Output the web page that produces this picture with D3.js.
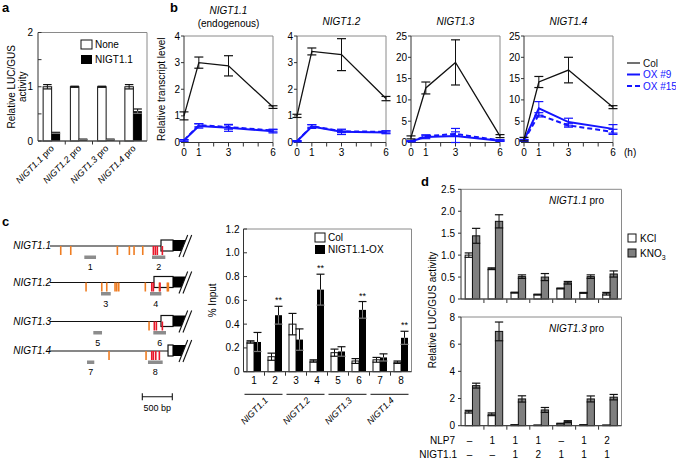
<!DOCTYPE html>
<html><head><meta charset="utf-8">
<script src="https://cdn.jsdelivr.net/npm/d3@7"></script>
<style>
body{margin:0;background:#fff;}
svg text{font-family:"Liberation Sans",Arial,Helvetica,sans-serif;}
</style></head>
<body><svg id="c" width="676" height="459"></svg>
<script>
// ---------- Panel a ----------
const aCategories = ["NIGT1.1","NIGT1.2","NIGT1.3","NIGT1.4"];
const aNone = [1.0,1.0,1.0,1.0];
const aNoneErr = [0.04,0.01,0.01,0.04];
const aNigt = [0.15,0.03,0.03,0.55];
const aNigtErr = [0.01,0.005,0.005,0.04];
const aYTicks = [0,1,2];
const aYMinor = [0.5,1.5];

// ---------- Panel b ----------
const bTitles = ["NIGT1.1","NIGT1.2","NIGT1.3","NIGT1.4"];
const bHours = [0,1,3,6];
const bHourTicks = [0,1,2,3,4,5,6];
const bHourLabels = [0,1,3,6];
const bYMax = [4,4,25,25];
const bYTicks = [[0,1,2,3,4],[0,1,2,3,4],[0,5,10,15,20,25],[0,5,10,15,20,25]];
const colVals = [[1.0,3.0,2.88,1.33],[1.0,3.42,3.3,1.65],[1.2,12.8,18.8,1.5],[0.8,14.2,17.0,8.3]];
const colErr  = [[0.15,0.21,0.38,0.05],[0.06,0.13,0.6,0.08],[0.35,1.4,5.3,0.35],[0.4,1.3,3.0,0.35]];
const ox9Vals = [[0.08,0.62,0.55,0.42],[0.05,0.6,0.4,0.38],[0.3,1.3,1.5,0.4],[0.5,8.0,4.8,3.2]];
const ox9Err  = [[0.03,0.08,0.13,0.06],[0.02,0.07,0.1,0.05],[0.1,0.4,1.8,0.15],[0.2,1.6,0.9,1.0]];
const ox15Vals= [[0.08,0.65,0.58,0.45],[0.05,0.62,0.42,0.4],[0.3,1.5,2.0,0.5],[0.5,6.5,4.0,2.5]];
const ox15Err = [[0.03,0.06,0.08,0.05],[0.02,0.05,0.05,0.04],[0.1,0.3,0.5,0.15],[0.2,0.5,0.4,0.6]];
const bLegend = ["Col","OX #9","OX #15"];

// ---------- Panel c (diagrams, positions in bp) ----------
const cGenes = ["NIGT1.1","NIGT1.2","NIGT1.3","NIGT1.4"];
const cUtrStart = [1850,1733,1850,1967];
const cCdsStart = [2050,2050,2050,2050];
const cCdsEnd = [2250,2250,2250,2250];
const cOrange = [[178,345,1122,1322,1400,1545],[600,862,945,1083,1112,1145,1588,1822,1955,1972],[1650],[983,1600]];
const cRed = [[1722,1755,1788,1872],[1695,1722,1833],[1738,1772,1872],[1695,1722,1762,1822]];
const cAmplicons = [[[572,767,"1"],[1700,1922,"2"]],[[850,1012,"3"],[1667,1855,"4"]],[[722,867,"5"],[1722,1933,"6"]],[[617,738,"7"],[1633,1878,"8"]]];
const cScaleBp = 500;

// ---------- Panel c (ChIP bars) ----------
const chipRegions = ["1","2","3","4","5","6","7","8"];
const chipCol = [0.25,0.126,0.40,0.09,0.16,0.09,0.10,0.08];
const chipColErr = [0.01,0.03,0.09,0.01,0.03,0.02,0.02,0.01];
const chipOX = [0.25,0.475,0.27,0.69,0.17,0.52,0.12,0.285];
const chipOXErr = [0.08,0.075,0.09,0.13,0.04,0.07,0.03,0.055];
const chipSig = [false,true,false,true,false,true,false,true];
const chipYTicks = [0,0.2,0.4,0.6,0.8,1.0,1.2];

// ---------- Panel d ----------
const dNLP7 = ["–","1","1","1","–","1","2"];
const dNIGT = ["–","–","1","2","1","1","1"];
const d11KCl = [1.0,0.69,0.145,0.1,0.24,0.14,0.12];
const d11KClErr = [0.05,0.02,0.01,0.01,0.01,0.01,0.03];
const d11KNO3 = [1.44,1.77,0.51,0.5,0.37,0.51,0.57];
const d11KNO3Err = [0.17,0.15,0.04,0.08,0.03,0.04,0.07];
const d13KCl = [1.03,0.84,0.05,0.03,0.15,0.05,0.03];
const d13KClErr = [0.1,0.1,0.02,0.01,0.03,0.02,0.01];
const d13KNO3 = [2.95,6.94,1.97,1.16,0.3,1.97,2.1];
const d13KNO3Err = [0.18,0.69,0.23,0.18,0.07,0.22,0.2];
const d11Ticks = [0,0.5,1.0,1.5,2.0,2.5];
const d13Ticks = [0,2,4,6,8];

const svg = d3.select("#c");
const AX = "#333", FR = "#8a8a8a";
const FS = 9;

function panelLabel(t,x,y){ svg.append("text").attr("x",x).attr("y",y).attr("font-size",13).attr("font-weight","bold").text(t); }

function frame(g,x0,x1,y0,y1){
  g.append("path").attr("d",`M${x0},${y1}H${x1}V${y0}H${x0}`).attr("fill","none").attr("stroke",FR).attr("stroke-width",1);
  g.append("path").attr("d",`M${x0},${y0}V${y1}H${x1}`).attr("fill","none").attr("stroke",AX).attr("stroke-width",1);
}

function errBar(g,x,yS,v,e,w,color,lowColor){
  g.append("line").attr("x1",x).attr("x2",x).attr("y1",yS(v+e)).attr("y2",yS(v)).attr("stroke",color).attr("stroke-width",1);
  g.append("line").attr("x1",x).attr("x2",x).attr("y1",yS(v)).attr("y2",yS(Math.max(0,v-e))).attr("stroke",lowColor||color).attr("stroke-width",1);
  g.append("line").attr("x1",x-w/2).attr("x2",x+w/2).attr("y1",yS(v+e)).attr("y2",yS(v+e)).attr("stroke",color).attr("stroke-width",1.2);
  g.append("line").attr("x1",x-w/2).attr("x2",x+w/2).attr("y1",yS(Math.max(0,v-e))).attr("y2",yS(Math.max(0,v-e))).attr("stroke",lowColor||color).attr("stroke-width",1.2);
}

// ================= Panel a =================
panelLabel("a",2,12);
{
  const g = svg.append("g");
  const x0=38,x1=147,y0=32.5,y1=141;
  const xb = d3.scaleBand().domain(aCategories).range([x0,x1]);
  const y = d3.scaleLinear().domain([0,2]).range([y1,y0]);
  const bw = 8.5;
  aCategories.forEach((c,i)=>{
    const cx = xb(c)+xb.bandwidth()/2;
    g.append("rect").attr("x",cx-bw).attr("y",y(aNone[i])).attr("width",bw).attr("height",y1-y(aNone[i])).attr("fill","#fff").attr("stroke","#111").attr("stroke-width",1);
    g.append("rect").attr("x",cx).attr("y",y(aNigt[i])).attr("width",bw).attr("height",y1-y(aNigt[i])).attr("fill","#000");
    errBar(g,cx-bw/2,y,aNone[i],aNoneErr[i],bw,"#111");
    errBar(g,cx+bw/2,y,aNigt[i],aNigtErr[i],bw,"#111","#777");
    g.append("text").attr("transform",`translate(${cx+3},${y1+8}) rotate(-45)`).attr("text-anchor","end").attr("font-size",FS)
      .call(t=>{t.append("tspan").attr("font-style","italic").text(c); t.append("tspan").text(" pro");});
  });
  frame(g,x0,x1,y0,y1);
  aYTicks.forEach(v=>{
    g.append("line").attr("x1",x0).attr("x2",x0+3.5).attr("y1",y(v)).attr("y2",y(v)).attr("stroke",AX);
    g.append("text").attr("x",x0-5).attr("y",y(v)+3.5).attr("text-anchor","end").attr("font-size",FS+1).text(d3.format("d")(v));
  });
  aYMinor.forEach(v=>g.append("line").attr("x1",x0).attr("x2",x0+3.5).attr("y1",y(v)).attr("y2",y(v)).attr("stroke",AX));
  xb.domain().slice(1).forEach(c=>g.append("line").attr("x1",xb(c)).attr("x2",xb(c)).attr("y1",y1).attr("y2",y1+3.5).attr("stroke",AX));
  g.append("text").attr("transform",`translate(15,${(y0+y1)/2}) rotate(-90)`).attr("text-anchor","middle").attr("font-size",FS+1).text("Relative LUC/GUS");
  g.append("text").attr("transform",`translate(26,${(y0+y1)/2}) rotate(-90)`).attr("text-anchor","middle").attr("font-size",FS+1).text("activity");
  // legend
  g.append("rect").attr("x",81).attr("y",40).attr("width",11).attr("height",9).attr("fill","#fff").attr("stroke","#111");
  g.append("text").attr("x",95).attr("y",48).attr("font-size",FS+1).text("None");
  g.append("rect").attr("x",81).attr("y",55).attr("width",11).attr("height",9).attr("fill","#000");
  g.append("text").attr("x",95).attr("y",63).attr("font-size",FS+1).text("NIGT1.1");
}

// ================= Panel b =================
panelLabel("b",170,12);
{
  const lefts=[184,297,411,524], w=89, y0=36, y1=142.5;
  const blue="#1414ff";
  bTitles.forEach((t,k)=>{
    const g = svg.append("g");
    const x0=lefts[k], x1=x0+w;
    const x = d3.scaleLinear().domain([0,6]).range([x0,x1]);
    const y = d3.scaleLinear().domain([0,bYMax[k]]).range([y1,y0]);
    frame(g,x0,x1,y0,y1);
    bHourTicks.forEach(h=>g.append("line").attr("x1",x(h)).attr("x2",x(h)).attr("y1",y1).attr("y2",y1+4).attr("stroke",AX));
    bHourLabels.forEach(h=>g.append("text").attr("x",x(h)).attr("y",y1+13).attr("text-anchor","middle").attr("font-size",FS+1).text(h));
    bYTicks[k].forEach(v=>{
      g.append("line").attr("x1",x0-3).attr("x2",x0).attr("y1",y(v)).attr("y2",y(v)).attr("stroke",AX);
      g.append("text").attr("x",x0-4).attr("y",y(v)+3.5).attr("text-anchor","end").attr("font-size",FS+1).text(v);
    });
    const line = d3.line().x((d,i)=>x(bHours[i])).y(d=>y(d));
    const series = [[ox15Vals[k],ox15Err[k],blue,"5,3",2],[ox9Vals[k],ox9Err[k],blue,null,2],[colVals[k],colErr[k],"#111",null,1.3]];
    series.forEach(([vals,errs,col,dash,sw])=>{
      vals.forEach((v,i)=>errBar(g,x(bHours[i]),y,v,errs[i],9,col));
      g.append("path").datum(vals).attr("d",line).attr("fill","none").attr("stroke",col).attr("stroke-width",sw).attr("stroke-dasharray",dash);
    });
    g.append("text").attr("x",x0+w/2).attr("y",k===0?14:25).attr("text-anchor","middle").attr("font-size",FS+1).attr("font-style","italic").text(t);
    if(k===0) g.append("text").attr("x",x0+w/2).attr("y",27).attr("text-anchor","middle").attr("font-size",FS+1).text("(endogenous)");
  });
  svg.append("text").attr("transform",`translate(165,${(y0+y1)/2}) rotate(-90)`).attr("text-anchor","middle").attr("font-size",FS+1).text("Relative transcript level");
  svg.append("text").attr("x",624).attr("y",y1+13).attr("font-size",FS+1).text("(h)");
  const lc=["#111",blue,blue], ld=[null,null,"5,3"], lw=[1.2,2,2];
  bLegend.forEach((t,i)=>{
    const yy=63+i*11.5;
    svg.append("line").attr("x1",627).attr("x2",640).attr("y1",yy).attr("y2",yy).attr("stroke",lc[i]).attr("stroke-width",lw[i]).attr("stroke-dasharray",ld[i]);
    svg.append("text").attr("x",643).attr("y",yy+3.5).attr("font-size",FS+1).attr("fill",i?blue:"#111").text(t);
  });
}

// ================= Panel c diagrams =================
panelLabel("c",2,226);
{
  const g = svg.append("g");
  const bx = d3.scaleLinear().domain([0,500]).range([50,80]);
  const rows=[246,282.5,321.5,351];
  cGenes.forEach((name,k)=>{
    const yy=rows[k];
    g.append("text").attr("x",51).attr("y",yy+3).attr("text-anchor","end").attr("font-size",FS+1).attr("font-style","italic").text(name);
    g.append("line").attr("x1",bx(0)).attr("x2",bx(cUtrStart[k])).attr("y1",yy).attr("y2",yy).attr("stroke","#111").attr("stroke-width",1.2);
    g.append("rect").attr("x",bx(cUtrStart[k])).attr("y",yy-6).attr("width",bx(cCdsStart[k])-bx(cUtrStart[k])).attr("height",11).attr("fill","#fff").attr("stroke","#111").attr("stroke-width",1.2);
    g.append("rect").attr("x",bx(cCdsStart[k])).attr("y",yy-6).attr("width",bx(cCdsEnd[k])-bx(cCdsStart[k])).attr("height",11).attr("fill","#000");
    const sx=bx(cCdsEnd[k]);
    g.append("path").attr("d",`M${sx-6},${yy+11}L${sx+2.7},${yy-11}L${sx+6.7},${yy-11}L${sx-2},${yy+11}Z`).attr("fill","#fff");
    g.append("line").attr("x1",sx-6).attr("y1",yy+11).attr("x2",sx+2.7).attr("y2",yy-11).attr("stroke","#111").attr("stroke-width",1.1);
    g.append("line").attr("x1",sx-2).attr("y1",yy+11).attr("x2",sx+6.7).attr("y2",yy-11).attr("stroke","#111").attr("stroke-width",1.1);
    cOrange[k].forEach(p=>g.append("rect").attr("x",bx(p)-0.75).attr("y",yy).attr("width",1.6).attr("height",9).attr("fill","#ef7d22"));
    cRed[k].forEach(p=>g.append("rect").attr("x",bx(p)-0.75).attr("y",yy).attr("width",1.6).attr("height",9).attr("fill","#e8182a"));
    cAmplicons[k].forEach(([a,b,lab])=>{
      g.append("rect").attr("x",bx(a)).attr("y",yy+9.5).attr("width",bx(b)-bx(a)).attr("height",3.5).attr("fill","#8c8c8c");
      g.append("text").attr("x",(bx(a)+bx(b))/2).attr("y",yy+24).attr("text-anchor","middle").attr("font-size",FS).text(lab);
    });
  });
  const s0=142.3, s1=s0+(bx(cScaleBp)-bx(0)), sy=396.7;
  g.append("path").attr("d",`M${s0},${sy-3.5}V${sy+3.5}M${s0},${sy}H${s1}M${s1},${sy-3.5}V${sy+3.5}`).attr("stroke","#111").attr("stroke-width",1.1).attr("fill","none");
  g.append("text").attr("x",(s0+s1)/2).attr("y",sy+14).attr("text-anchor","middle").attr("font-size",FS).text(cScaleBp+" bp");
}

// ================= Panel c bars =================
{
  const g = svg.append("g");
  const x0=243.5,x1=411.5,y0=229,y1=371.7;
  const xb = d3.scaleBand().domain(chipRegions).range([x0,x1]);
  const y = d3.scaleLinear().domain([0,1.2]).range([y1,y0]);
  const bw=7;
  chipRegions.forEach((r,i)=>{
    const cx=xb(r)+xb.bandwidth()/2;
    g.append("rect").attr("x",cx-bw).attr("y",y(chipCol[i])).attr("width",bw).attr("height",y1-y(chipCol[i])).attr("fill","#fff").attr("stroke","#111");
    g.append("rect").attr("x",cx).attr("y",y(chipOX[i])).attr("width",bw).attr("height",y1-y(chipOX[i])).attr("fill","#000");
    errBar(g,cx-bw/2,y,chipCol[i],chipColErr[i],bw+1,"#111");
    errBar(g,cx+bw/2,y,chipOX[i],chipOXErr[i],bw+1,"#111","#777");
    if(chipSig[i]) g.append("text").attr("x",cx+bw/2).attr("y",y(chipOX[i]+chipOXErr[i])-3).attr("text-anchor","middle").attr("font-size",FS).text("**");
    g.append("text").attr("x",cx).attr("y",y1+12).attr("text-anchor","middle").attr("font-size",FS+1).text(r);
    if(i>0) g.append("line").attr("x1",xb(r)).attr("x2",xb(r)).attr("y1",y1).attr("y2",y1+4).attr("stroke",AX);
  });
  frame(g,x0,x1,y0,y1);
  chipYTicks.forEach(v=>{
    g.append("line").attr("x1",x0).attr("x2",x0+3.5).attr("y1",y(v)).attr("y2",y(v)).attr("stroke",AX);
    g.append("text").attr("x",x0-4).attr("y",y(v)+3.5).attr("text-anchor","end").attr("font-size",FS+1).text(v===0?"0":d3.format(".1f")(v));
  });
  cGenes.forEach((gn,j)=>{
    const a=xb(chipRegions[2*j]), b=xb(chipRegions[2*j+1])+xb.bandwidth();
    g.append("line").attr("x1",a+1).attr("x2",b-3).attr("y1",394.3).attr("y2",394.3).attr("stroke","#111");
    const c=(a+b)/2;
    g.append("text").attr("transform",`translate(${c+4},${401}) rotate(-45)`).attr("text-anchor","end").attr("font-size",FS).attr("font-style","italic").text(gn);
  });
  g.append("text").attr("transform",`translate(216,${(y0+y1)/2}) rotate(-90)`).attr("text-anchor","middle").attr("font-size",FS+1).text("% Input");
  g.append("rect").attr("x",315).attr("y",233).attr("width",10).attr("height",9).attr("fill","#fff").attr("stroke","#111");
  g.append("text").attr("x",328).attr("y",241).attr("font-size",FS+1).text("Col");
  g.append("rect").attr("x",315).attr("y",245).attr("width",10).attr("height",9).attr("fill","#000");
  g.append("text").attr("x",328).attr("y",253).attr("font-size",FS+1).text("NIGT1.1-OX");
}

// ================= Panel d =================
panelLabel("d",421,186);
{
  const x0=461,x1=621.5;
  const cats = d3.range(dNLP7.length).map(String);
  const xb = d3.scaleBand().domain(cats).range([x0,x1]);
  const bw=7.3;
  function sub(yTop,yBot,max,ticks,fmt,kcl,kclE,kno,knoE,title,titleY){
    const g=svg.append("g");
    const y=d3.scaleLinear().domain([0,max]).range([yBot,yTop]);
    cats.forEach((c,i)=>{
      const cx=xb(c)+xb.bandwidth()/2;
      g.append("rect").attr("x",cx-bw).attr("y",y(kcl[i])).attr("width",bw).attr("height",yBot-y(kcl[i])).attr("fill","#fff").attr("stroke","#111");
      g.append("rect").attr("x",cx).attr("y",y(kno[i])).attr("width",bw).attr("height",yBot-y(kno[i])).attr("fill","#7f7f7f").attr("stroke","#111");
      errBar(g,cx-bw/2,y,kcl[i],kclE[i],bw+1,"#111");
      errBar(g,cx+bw/2,y,kno[i],knoE[i],bw+1,"#111");
      if(i>0) g.append("line").attr("x1",xb(c)).attr("x2",xb(c)).attr("y1",yBot).attr("y2",yBot+4).attr("stroke",AX);
    });
    frame(g,x0,x1,yTop,yBot);
    ticks.forEach(v=>{
      g.append("line").attr("x1",x0-3).attr("x2",x0).attr("y1",y(v)).attr("y2",y(v)).attr("stroke",AX);
      g.append("text").attr("x",x0-6).attr("y",y(v)+3.5).attr("text-anchor","end").attr("font-size",FS+1).text(v===0?"0":fmt(v));
    });
    g.append("text").attr("x",604).attr("y",titleY).attr("text-anchor","end").attr("font-size",FS+1)
      .call(t=>{t.append("tspan").attr("font-style","italic").text(title); t.append("tspan").text(" pro");});
  }
  sub(189.3,299,2.5,d11Ticks,d3.format(".1f"),d11KCl,d11KClErr,d11KNO3,d11KNO3Err,"NIGT1.1",204);
  sub(317,425.7,8,d13Ticks,d3.format("d"),d13KCl,d13KClErr,d13KNO3,d13KNO3Err,"NIGT1.3",332);
  svg.append("text").attr("transform",`translate(436,310) rotate(-90)`).attr("text-anchor","middle").attr("font-size",FS+1).text("Relative LUC/GUS activity");
  svg.append("text").attr("x",455).attr("y",444).attr("text-anchor","end").attr("font-size",FS+1).text("NLP7");
  svg.append("text").attr("x",457).attr("y",458).attr("text-anchor","end").attr("font-size",FS+1).text("NIGT1.1");
  cats.forEach((c,i)=>{
    const cx=xb(c)+xb.bandwidth()/2-3;
    svg.append("text").attr("x",cx).attr("y",444).attr("text-anchor","middle").attr("font-size",FS+1).text(dNLP7[i]);
    svg.append("text").attr("x",cx).attr("y",458).attr("text-anchor","middle").attr("font-size",FS+1).text(dNIGT[i]);
  });
  svg.append("rect").attr("x",628).attr("y",234).attr("width",8).attr("height",8).attr("fill","#fff").attr("stroke","#111");
  svg.append("text").attr("x",640).attr("y",242).attr("font-size",FS+1).text("KCl");
  svg.append("rect").attr("x",628).attr("y",249).attr("width",8).attr("height",8).attr("fill","#7f7f7f").attr("stroke","#111");
  svg.append("text").attr("x",640).attr("y",257).attr("font-size",FS+1).call(t=>{t.append("tspan").text("KNO"); t.append("tspan").attr("font-size",7).attr("dy",2.5).text("3");});
}
</script></body></html>
